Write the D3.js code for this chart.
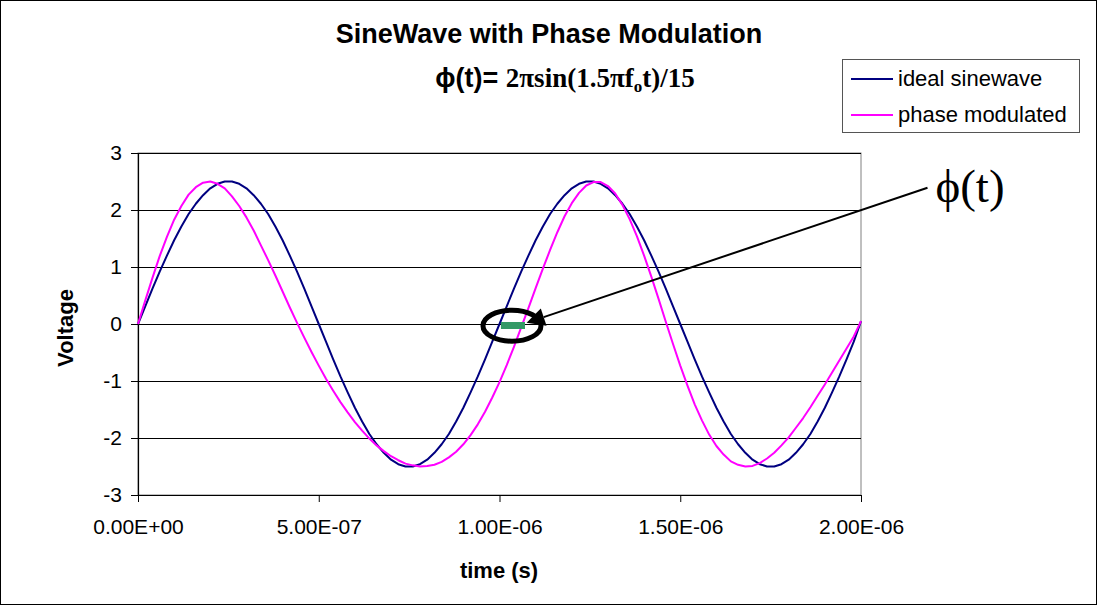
<!DOCTYPE html>
<html><head><meta charset="utf-8">
<script src="https://cdn.jsdelivr.net/npm/d3@7"></script>
<style>
html,body{margin:0;padding:0;background:#fff;}
svg{display:block;font-family:"Liberation Sans",Arial,sans-serif;}
</style></head>
<body>
<svg id="chart" width="1097" height="605"></svg>
<script>
// ---- data ----
const timeStep = 2e-8; // s, sample spacing
const idealSinewave = [
 0,0.31,0.62,0.92,1.20,1.47,1.71,1.93,2.11,2.26,2.38,2.46,2.50,2.50,2.46,2.38,2.26,2.11,1.93,1.71,1.47,1.20,0.92,0.62,0.31,
 0,-0.31,-0.62,-0.92,-1.20,-1.47,-1.71,-1.93,-2.11,-2.26,-2.38,-2.46,-2.50,-2.50,-2.46,-2.38,-2.26,-2.11,-1.93,-1.71,-1.47,-1.20,-0.92,-0.62,-0.31,
 0,0.31,0.62,0.92,1.20,1.47,1.71,1.93,2.11,2.26,2.38,2.46,2.50,2.50,2.46,2.38,2.26,2.11,1.93,1.71,1.47,1.20,0.92,0.62,0.31,
 0,-0.31,-0.62,-0.92,-1.20,-1.47,-1.71,-1.93,-2.11,-2.26,-2.38,-2.46,-2.50,-2.50,-2.46,-2.38,-2.26,-2.11,-1.93,-1.71,-1.47,-1.20,-0.92,-0.62,-0.31,
 0.05];
const phaseModulated = [
 0,0.41,0.81,1.19,1.53,1.83,2.07,2.27,2.40,2.48,2.50,2.46,2.38,2.24,2.07,1.87,1.64,1.38,1.12,0.85,0.57,0.29,0.02,-0.24,-0.49,
 -0.73,-0.96,-1.17,-1.37,-1.55,-1.72,-1.87,-2.01,-2.13,-2.23,-2.32,-2.39,-2.45,-2.48,-2.50,-2.49,-2.47,-2.42,-2.34,-2.24,-2.11,-1.95,-1.76,-1.54,-1.29,
 -1.02,-0.72,-0.40,-0.06,0.28,0.63,0.97,1.30,1.61,1.89,2.12,2.30,2.43,2.49,2.49,2.42,2.29,2.09,1.84,1.54,1.20,0.83,0.44,0.04,-0.35,
 -0.73,-1.08,-1.41,-1.69,-1.94,-2.14,-2.29,-2.41,-2.47,-2.50,-2.49,-2.44,-2.36,-2.26,-2.13,-1.99,-1.82,-1.65,-1.46,-1.26,-1.06,-0.85,-0.64,-0.43,-0.22,
 0.05];
const xTicks = [0, 5e-7, 1e-6, 1.5e-6, 2e-6];
const xTickLabels = ["0.00E+00","5.00E-07","1.00E-06","1.50E-06","2.00E-06"];
const yTicks = [-3,-2,-1,0,1,2,3];
const yTickLabels = ["-3","-2","-1","0","1","2","3"];
const seriesNames = ["ideal sinewave","phase modulated"];
const seriesColors = ["#000080","#FF00FF"];
// annotation (data units)
const phaseBar = [1.004e-6, 1.0705e-6];     // green bar extent in time
const ringCenter = [1.0345e-6, -0.03];
const arrowFrom = [2.184e-6, 2.39];
const arrowTo = [1.075e-6, 0.02];
const labelAt = [2.206e-6, 2.14];

// ---- layout ----
const SANS = "Liberation Sans, Arial, sans-serif";
const SERIF = "Liberation Serif, Times New Roman, serif";
const svg = d3.select("#chart");
const W = 1097, H = 605;
const x = d3.scaleLinear().domain([0, 2e-6]).range([138, 861]);
const y = d3.scaleLinear().domain([-3, 3]).range([495, 153]);

svg.append("rect").attr("x",0.5).attr("y",0.5).attr("width",W-1).attr("height",H-1)
  .attr("fill","#fff").attr("stroke","#000").attr("stroke-width",1);

// plot area border
svg.append("rect").attr("x",x(0)).attr("y",y(3)).attr("width",x(2e-6)-x(0)).attr("height",y(-3)-y(3))
  .attr("fill","#fff").attr("stroke","#808080").attr("stroke-width",1);

// gridlines
svg.append("g").selectAll("line").data(yTicks.filter(d=>d>-3)).join("line")
  .attr("x1",x(0)).attr("x2",x(2e-6))
  .attr("y1",d=>Math.round(y(d))+0.5).attr("y2",d=>Math.round(y(d))+0.5)
  .attr("stroke","#000").attr("stroke-width",1);

// axes
const yAxis = d3.axisLeft(y).tickValues(yTicks).tickSize(7).tickPadding(9).tickFormat((d,i)=>yTickLabels[i]);
const gy = svg.append("g").attr("transform",`translate(${x(0)},0)`).call(yAxis);
const xAxis = d3.axisBottom(x).tickValues(xTicks).tickSize(7).tickPadding(17).tickFormat((d,i)=>xTickLabels[i]);
const gx = svg.append("g").attr("transform",`translate(0,${y(-3)})`).call(xAxis);
[gx,gy].forEach(g=>{
  g.attr("font-family",SANS).attr("font-size",21);
  g.selectAll("path.domain").attr("stroke","#000").attr("stroke-width",1.2);
  g.selectAll(".tick line").attr("stroke","#000");
  g.selectAll("text").attr("fill","#000");
});
gx.select("path.domain").attr("d",`M${x(0)},0.5H${x(2e-6)}`);
gy.select("path.domain").attr("d",`M0.5,${y(3)}V${y(-3)}`);

// lines
const line = d3.line().x((d,i)=>x(i*timeStep)).y(d=>y(d));
[idealSinewave, phaseModulated].forEach((s,i)=>{
  svg.append("path").datum(s).attr("d",line).attr("fill","none")
    .attr("stroke",seriesColors[i]).attr("stroke-width",2).attr("stroke-linejoin","round");
});

// annotation
svg.append("rect").attr("x",x(phaseBar[0])).attr("width",x(phaseBar[1])-x(phaseBar[0]))
  .attr("y",y(0)-2).attr("height",7).attr("fill","#339966");
svg.append("ellipse").attr("cx",x(ringCenter[0])).attr("cy",y(ringCenter[1]))
  .attr("rx",29).attr("ry",15.5).attr("fill","none").attr("stroke","#000").attr("stroke-width",5);
{
  const x1=x(arrowFrom[0]), y1=y(arrowFrom[1]), x2=x(arrowTo[0]), y2=y(arrowTo[1]);
  const dx=x2-x1, dy=y2-y1, L=Math.hypot(dx,dy), ux=dx/L, uy=dy/L;
  const len=18, half=9;
  const bx=x2-ux*len, by=y2-uy*len;
  svg.append("line").attr("x1",x1).attr("y1",y1).attr("x2",bx).attr("y2",by)
    .attr("stroke","#000").attr("stroke-width",2);
  svg.append("path").attr("d",`M${x2},${y2}L${bx-uy*half},${by+ux*half}L${bx+uy*half},${by-ux*half}Z`)
    .attr("fill","#000");
}
svg.append("text").attr("x",x(labelAt[0])).attr("y",y(labelAt[1]))
  .attr("font-family",SERIF).attr("font-size",47)
  .text("\u03D5(t)");

// titles
svg.append("text").attr("x",549).attr("y",43).attr("text-anchor","middle")
  .attr("font-size",27).attr("font-weight","bold").text("SineWave with Phase Modulation");
const t2 = svg.append("text").attr("x",565).attr("y",87).attr("text-anchor","middle")
  .attr("font-size",27).attr("font-weight","bold");
t2.append("tspan").attr("font-family",SANS).text("\u03D5(t)= ");
t2.append("tspan").attr("font-family",SERIF).text("2\u03C0sin(1.5\u03C0f");
t2.append("tspan").attr("font-family",SERIF).attr("font-size",17).attr("dy",5).text("o");
t2.append("tspan").attr("font-family",SERIF).attr("dy",-5).text("t)/15");

svg.append("text").attr("x",499).attr("y",578).attr("text-anchor","middle")
  .attr("font-size",22).attr("font-weight","bold").text("time (s)");
svg.append("text").attr("transform","translate(73,328) rotate(-90)").attr("text-anchor","middle")
  .attr("font-size",22).attr("font-weight","bold").text("Voltage");

// legend
const lg = svg.append("g");
lg.append("rect").attr("x",842.5).attr("y",59.5).attr("width",237).attr("height",73)
  .attr("fill","#fff").attr("stroke","#555").attr("stroke-width",1);
seriesNames.forEach((n,i)=>{
  const yy = 79 + i*36;
  lg.append("line").attr("x1",851).attr("x2",893).attr("y1",yy).attr("y2",yy)
    .attr("stroke",seriesColors[i]).attr("stroke-width",2);
  lg.append("text").attr("x",898).attr("y",yy+7).attr("font-size",22).text(n);
});
</script>
</body></html>
